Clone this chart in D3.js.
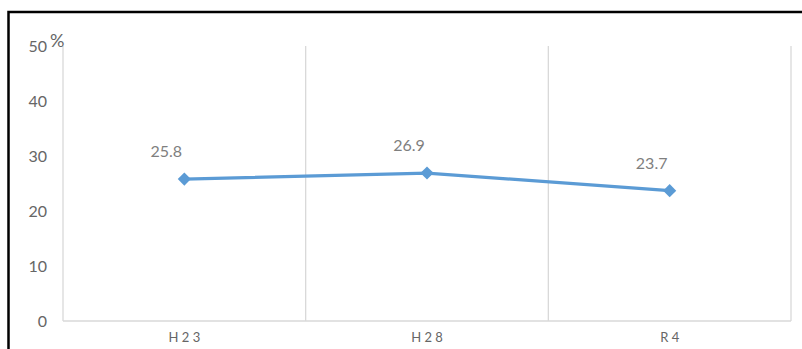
<!DOCTYPE html>
<html><head><meta charset="utf-8">
<script src="https://cdn.jsdelivr.net/npm/d3@7"></script>
<style>body{margin:0;background:#fff;} svg{display:block;}</style>
</head><body>
<svg id="c" width="802" height="349"></svg>
<script>
const categories = ["H 2 3", "H 2 8", "R 4"];
const values = [25.8, 26.9, 23.7];
const yTicks = [0, 10, 20, 30, 40, 50];
const unitLabel = "%";

const svg = d3.select("#c");
const font = "Lato, 'Open Sans', sans-serif";
const m = {left: 63, right: 791, top: 46, bottom: 321};

// outer frame
svg.append("rect").attr("x", 8.5).attr("y", 12).attr("width", 820).attr("height", 360)
  .attr("fill", "none").attr("stroke", "#000").attr("stroke-width", 2.5);

const x = d3.scaleBand().domain(categories).range([m.left, m.right]);
const y = d3.scaleLinear().domain([0, 50]).range([m.bottom, m.top]);

// vertical gridlines at category boundaries
const bounds = categories.map(c => x(c)).concat([x(categories[categories.length-1]) + x.bandwidth()]);
svg.append("g").selectAll("line").data(bounds).join("line")
  .attr("x1", d => d).attr("x2", d => d).attr("y1", m.top).attr("y2", m.bottom)
  .attr("stroke", "#d9d9d9").attr("stroke-width", 1.3);

// baseline
svg.append("line").attr("x1", m.left).attr("x2", m.right).attr("y1", y(0)).attr("y2", y(0))
  .attr("stroke", "#d9d9d9").attr("stroke-width", 1.5);

// y axis
const ya = svg.append("g").attr("transform", `translate(${m.left},0)`)
  .call(d3.axisLeft(y).tickValues(yTicks).tickSize(0).tickPadding(16));
ya.select(".domain").remove();
ya.selectAll("text").attr("font-family", font).attr("font-size", 16).attr("fill", "#666");

// x axis
const xa = svg.append("g").attr("transform", `translate(0,${m.bottom})`)
  .call(d3.axisBottom(x).tickSize(0).tickPadding(12));
xa.select(".domain").remove();
xa.selectAll("text").attr("font-family", font).attr("font-size", 13).attr("fill", "#666");

// unit label
svg.append("text").attr("x", 50).attr("y", 47).text(unitLabel)
  .attr("font-family", font).attr("font-size", 18).attr("fill", "#666");

// line
const pts = categories.map((c, i) => ({c, v: values[i]}));
const cx = d => x(d.c) + x.bandwidth() / 2;
svg.append("path").datum(pts)
  .attr("d", d3.line().x(cx).y(d => y(d.v)))
  .attr("fill", "none").attr("stroke", "#5B9BD5").attr("stroke-width", 3.2);

svg.append("g").selectAll("path").data(pts).join("path")
  .attr("d", d3.symbol().type(d3.symbolDiamond2).size(110))
  .attr("transform", d => `translate(${cx(d)},${y(d.v)})`)
  .attr("fill", "#5B9BD5");

// data labels
svg.append("g").selectAll("text").data(pts).join("text")
  .attr("x", d => cx(d) - 18).attr("y", d => y(d.v) - 22)
  .attr("text-anchor", "middle")
  .attr("font-family", font).attr("font-size", 16).attr("fill", "#7f7f7f")
  .text(d => d.v.toFixed(1));
</script>
</body></html>
